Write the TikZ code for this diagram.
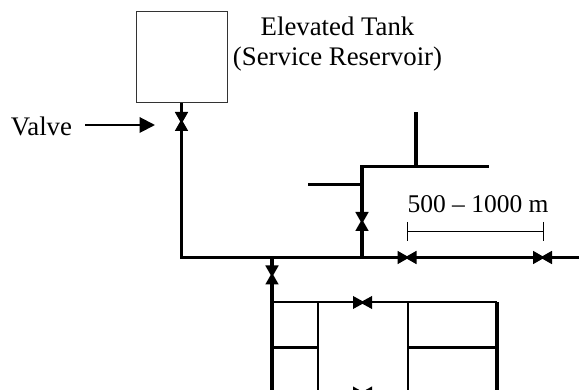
\documentclass[tikz,border=0pt]{standalone}
\usepackage{fontspec}
\setmainfont{Liberation Serif}
\usetikzlibrary{arrows.meta, positioning}
\tikzset{
  wdtank/.style={rectangle, draw=black!80, line width=1pt, minimum size=91pt, inner sep=0pt},
  wdtext/.style={font=\fontsize{26.8}{30.5}\selectfont, inner sep=0pt, align=center},
  wdlen/.style={font=\fontsize{25.5}{30}\selectfont, inner sep=0pt, anchor=base},
  wdpipe/.style={line width=3.2pt},
  wdthin/.style={line width=2pt},
  wdvalve/.style={-{Triangle[length=12pt, width=12.5pt]}, shorten >=-2.5pt},
  wdpointer/.style={line width=2pt, -{Triangle[length=15.5pt, width=15.5pt]}, shorten >=0pt},
  wddim/.style={line width=1pt},
}
\begin{document}
\begin{tikzpicture}[x=1pt, y=-1pt]
  \useasboundingbox (0,0) rectangle (579,390);

  % Reservoir and labels.
  \node[wdtank] (tank) at (181.5,57.5) {};
  \node[wdtext] (tanklabel) at (337.5,44) {Elevated Tank\\(Service Reservoir)};
  \node[wdtext, anchor=base] (valvelabel) at (41.5,136) {Valve};
  \node[wdlen] (lengthlabel) at (478,212.7) {500 -- 1000 m};

  % Junctions and valve centres.
  \coordinate (v_tank) at (181.5,121.5);
  \coordinate (j_main) at (181.5,257.5);
  \coordinate (j_down) at (272,257.5);
  \coordinate (j_up) at (362,257.5);
  \coordinate (v_up) at (362,221.5);
  \coordinate (j_top) at (362,166.5);
  \coordinate (j_side) at (362,184.5);
  \coordinate (side_end) at (308,184.5);
  \coordinate (top_end) at (487.5,166.5);
  \coordinate (j_riser) at (416,166.5);
  \coordinate (riser_end) at (416,112);
  \coordinate (v_a) at (407,257.5);
  \coordinate (v_b) at (542.5,257.5);
  \coordinate (main_end) at (579,257.5);
  \coordinate (v_down) at (272,275);
  \coordinate (j_net) at (272,302.5);
  \coordinate (v_net) at (362.5,302.5);
  \coordinate (j_nr) at (497,302.5);
  \coordinate (j_a) at (318,302.5);
  \coordinate (j_b) at (408,302.5);
  \coordinate (j_al) at (318,393);
  \coordinate (j_bl) at (408,393);
  \coordinate (v_bot) at (362.5,393);
  \coordinate (pointer_start) at (85,125);
  \coordinate (pointer_end) at (155,125);

  % Pointer to the first valve.
  \draw[wdpointer] (pointer_start) -- (pointer_end);

  % Mains (each pair of tips meets at a valve).
  \draw[wdpipe, wdvalve] (tank.south -| v_tank) -- (v_tank);
  \draw[wdpipe, wdvalve] (j_main) -- (v_tank);
  \draw[wdpipe, line cap=rect] (j_main) -- (j_up);
  \draw[wdpipe, wdvalve] (j_up) -- (v_a);
  \draw[wdpipe, wdvalve] (v_b) -- (v_a);
  \draw[wdpipe, wdvalve] (v_a) -- (v_b);
  \draw[wdpipe, wdvalve] (main_end) -- (v_b);

  % Upper branch.
  \draw[wdpipe, wdvalve] (j_up) -- (v_up);
  \draw[wdpipe, wdvalve] (j_top) -- (v_up);
  \draw[wdpipe, line cap=rect] (j_top) -- (top_end);
  \draw[wdpipe] (j_side) -- (side_end);
  \draw[wdpipe] (j_riser) -- (riser_end);

  % Lower network.
  \draw[wdpipe, wdvalve] (j_down) -- (v_down);
  \draw[wdpipe, wdvalve] (j_net) -- (v_down);
  \draw[wdpipe] (j_net) -- (272,390);
  \draw[wdthin, wdvalve] (j_net) -- (v_net);
  \draw[wdthin, wdvalve] (j_nr) -- (v_net);
  \draw[wdpipe] (j_nr) -- (497,390);
  \draw[wdthin] (j_a) -- (j_al);
  \draw[wdthin] (j_b) -- (j_bl);
  \draw[wdpipe] (272,347.5) -- (318,347.5);
  \draw[wdpipe] (408,347.5) -- (497,347.5);
  \draw[wdthin, wdvalve] (j_al) -- (v_bot);
  \draw[wdthin, wdvalve] (j_bl) -- (v_bot);

  % Length marker.
  \draw[wddim] (407.3,231.3) -- (543,231.3);
  \draw[wddim] (407.3,222) -- (407.3,241);
  \draw[wddim] (543,222) -- (543,241);
\end{tikzpicture}
\end{document}
